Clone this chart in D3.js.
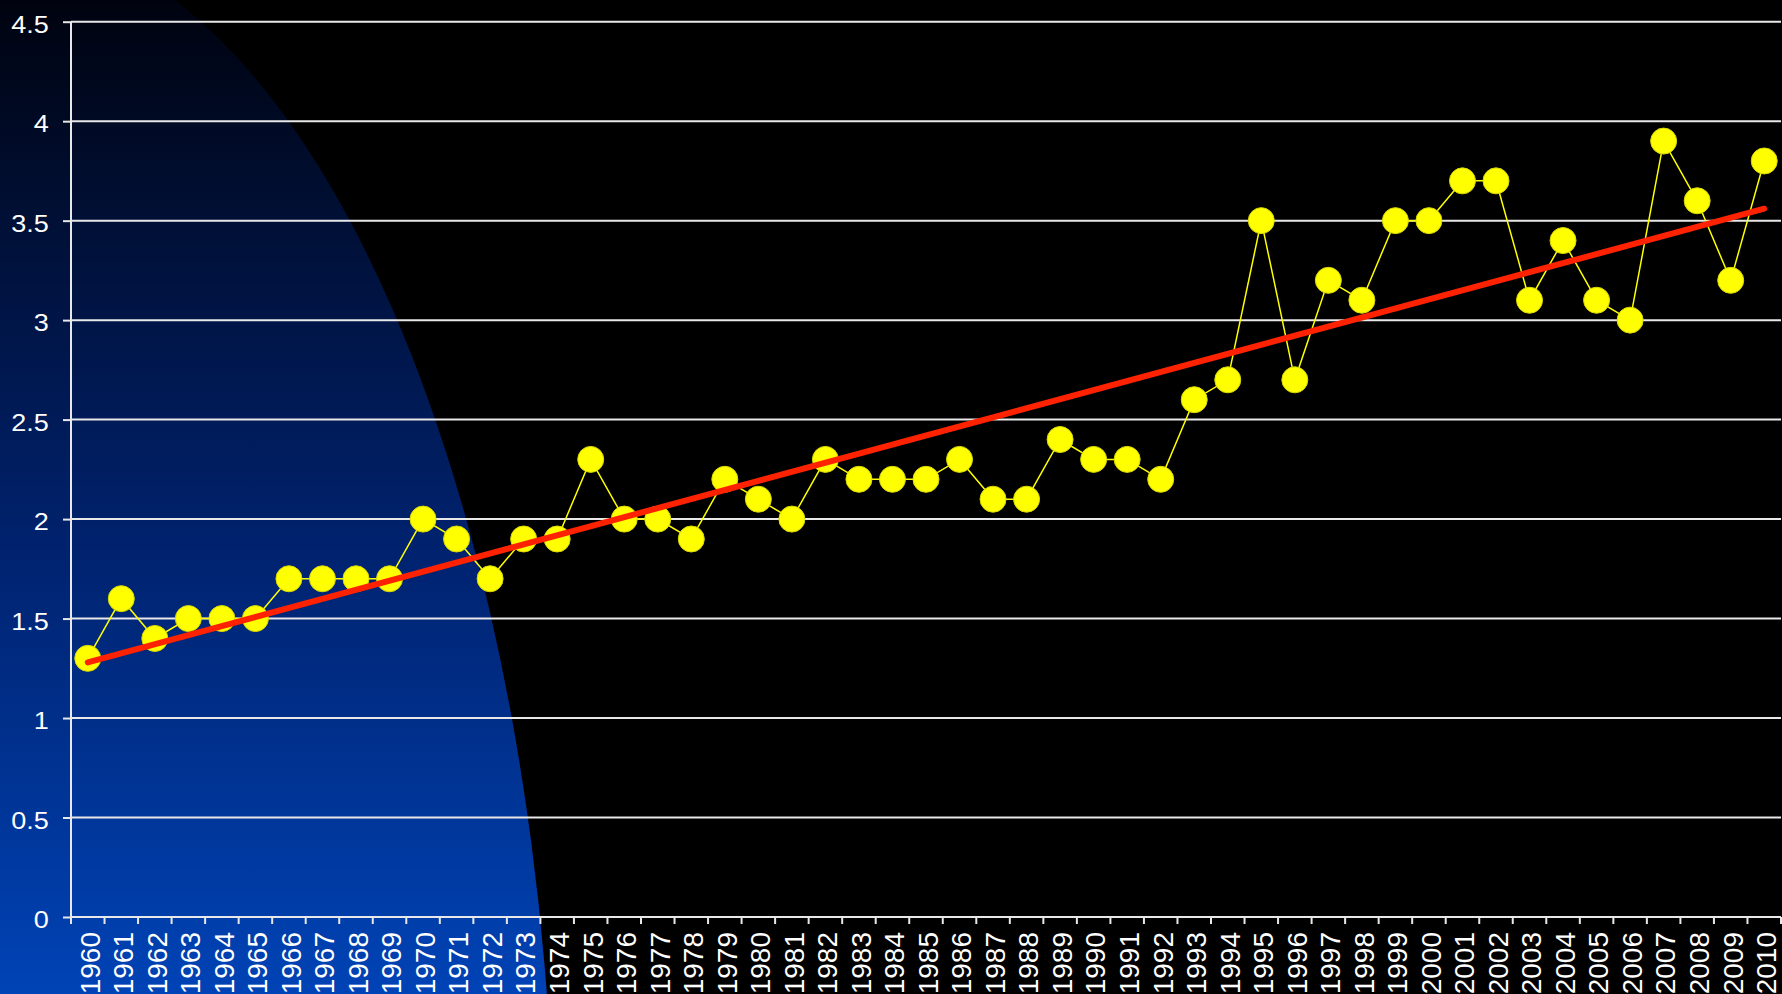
<!DOCTYPE html>
<html lang="en">

<head>
    <meta charset="UTF-8">
    <meta name="viewport" content="width=device-width, initial-scale=1.0">
    <script src="https://d3js.org/d3.v7.min.js"></script>
    <title>Trend 1960-2010</title>
    <style>
        body {
            margin: 0;
            background: #000;
            overflow: hidden;
        }

        text {
            font-family: "Liberation Sans", Arial, sans-serif;
            fill: #fff;
        }
    </style>
</head>

<body>
    <script>
        /*------------------- data --------------------*/
        const years = ["1960", "1961", "1962", "1963", "1964", "1965", "1966", "1967", "1968", "1969",
            "1970", "1971", "1972", "1973", "1974", "1975", "1976", "1977", "1978", "1979",
            "1980", "1981", "1982", "1983", "1984", "1985", "1986", "1987", "1988", "1989",
            "1990", "1991", "1992", "1993", "1994", "1995", "1996", "1997", "1998", "1999",
            "2000", "2001", "2002", "2003", "2004", "2005", "2006", "2007", "2008", "2009", "2010"];

        const values = [1.3, 1.6, 1.4, 1.5, 1.5, 1.5, 1.7, 1.7, 1.7, 1.7,
            2.0, 1.9, 1.7, 1.9, 1.9, 2.3, 2.0, 2.0, 1.9, 2.2,
            2.1, 2.0, 2.3, 2.2, 2.2, 2.2, 2.3, 2.1, 2.1, 2.4,
            2.3, 2.3, 2.2, 2.6, 2.7, 3.5, 2.7, 3.2, 3.1, 3.5,
            3.5, 3.7, 3.7, 3.1, 3.4, 3.1, 3.0, 3.9, 3.6, 3.2, 3.8];

        // linear trend, value at first and last year
        const trendYears = ["1960", "2010"];
        const trendValues = [1.28, 3.56];

        const yTicks = [0, 0.5, 1, 1.5, 2, 2.5, 3, 3.5, 4, 4.5];

        /*------------------- layout --------------------*/
        const W = 1782, H = 994;
        const plot = { left: 71, right: 1781, top: 21.7, bottom: 917 };

        const svg = d3.select("body").append("svg")
            .attr("width", W)
            .attr("height", H);

        // slide background: black with a blue glow on the left
        const defs = svg.append("defs");
        const grad = defs.append("linearGradient")
            .attr("id", "blueGlow")
            .attr("gradientUnits", "userSpaceOnUse")
            .attr("x1", 0).attr("y1", 0)
            .attr("x2", 0).attr("y2", H);
        grad.append("stop").attr("offset", "0%").attr("stop-color", "#00030f");
        grad.append("stop").attr("offset", "55%").attr("stop-color", "#00226e");
        grad.append("stop").attr("offset", "100%").attr("stop-color", "#0043b6");

        svg.append("rect").attr("width", W).attr("height", H).attr("fill", "#000");
        svg.append("ellipse")
            .attr("cx", 0).attr("cy", 1212)
            .attr("rx", 555).attr("ry", 1277)
            .attr("fill", "url(#blueGlow)");

        /*------------------- scales --------------------*/
        const x = d3.scaleBand()
            .domain(years)
            .range([plot.left, plot.right])
            .padding(0);
        const cx = d => x(d) + x.bandwidth() / 2;

        const y = d3.scaleLinear()
            .domain([0, 4.5])
            .range([plot.bottom, plot.top]);

        /*------------------- grid --------------------*/
        svg.append("g")
            .selectAll("line")
            .data(yTicks.filter(d => d > 0))
            .enter()
            .append("line")
            .attr("x1", plot.left)
            .attr("x2", plot.right)
            .attr("y1", d => y(d))
            .attr("y2", d => y(d))
            .attr("stroke", "#e8e8e8")
            .attr("stroke-width", 2);

        /*------------------- axes --------------------*/
        const yAxis = svg.append("g")
            .attr("transform", `translate(${plot.left},0)`)
            .call(d3.axisLeft(y).tickValues(yTicks).tickSize(8).tickFormat(d3.format("")));
        yAxis.select(".domain").remove();
        yAxis.selectAll("line").attr("stroke", "#e8e8e8").attr("stroke-width", 2);
        // labels are a little wider than plain Arial
        yAxis.selectAll("text")
            .attr("x", -19.2)
            .attr("dy", "0.45em")
            .attr("transform", "scale(1.16,1)")
            .style("font-size", "23.3px")
            .style("font-family", "'Liberation Sans', Arial, sans-serif")
            .attr("fill", "#fff");
        yAxis.append("line")
            .attr("y1", plot.top).attr("y2", plot.bottom + 7)
            .attr("stroke", "#e8e8e8").attr("stroke-width", 2);

        const xAxis = svg.append("g")
            .attr("transform", `translate(0,${plot.bottom})`)
            .call(d3.axisBottom(x).tickSize(0));
        xAxis.select(".domain").remove();
        xAxis.selectAll("text")
            .attr("transform", "rotate(-90)")
            .attr("x", -15)
            .attr("y", 0)
            .attr("dy", "11.8px")
            .style("text-anchor", "end")
            .style("font-size", "28px")
            .style("font-family", "'Liberation Sans', Arial, sans-serif")
            .attr("fill", "#fff");
        xAxis.append("line")
            .attr("x1", plot.left).attr("x2", plot.right)
            .attr("stroke", "#e8e8e8").attr("stroke-width", 2);
        // tick marks sit between the years
        xAxis.selectAll(".bound")
            .data(years.map(d => x(d)).concat([plot.right]))
            .enter()
            .append("line")
            .attr("class", "bound")
            .attr("x1", d => d).attr("x2", d => d)
            .attr("y1", 0).attr("y2", 7)
            .attr("stroke", "#e8e8e8").attr("stroke-width", 2);

        /*------------------- series --------------------*/
        const pts = years.map((d, i) => ({ year: d, value: values[i] }));

        svg.append("path")
            .datum(pts)
            .attr("fill", "none")
            .attr("stroke", "#ffff00")
            .attr("stroke-width", 1.5)
            .attr("d", d3.line().x(d => cx(d.year)).y(d => y(d.value)));

        svg.selectAll("circle.pt")
            .data(pts)
            .enter()
            .append("circle")
            .attr("class", "pt")
            .attr("cx", d => cx(d.year))
            .attr("cy", d => y(d.value))
            .attr("r", 13)
            .attr("fill", "#ffff00")
            .attr("stroke", "#d8d800")
            .attr("stroke-width", 1);

        // trend line on top
        svg.append("path")
            .datum(trendYears.map((d, i) => ({ year: d, value: trendValues[i] })))
            .attr("fill", "none")
            .attr("stroke", "#ff2200")
            .attr("stroke-width", 6)
            .attr("stroke-linecap", "round")
            .attr("d", d3.line().x(d => cx(d.year)).y(d => y(d.value)));
    </script>
</body>

</html>
